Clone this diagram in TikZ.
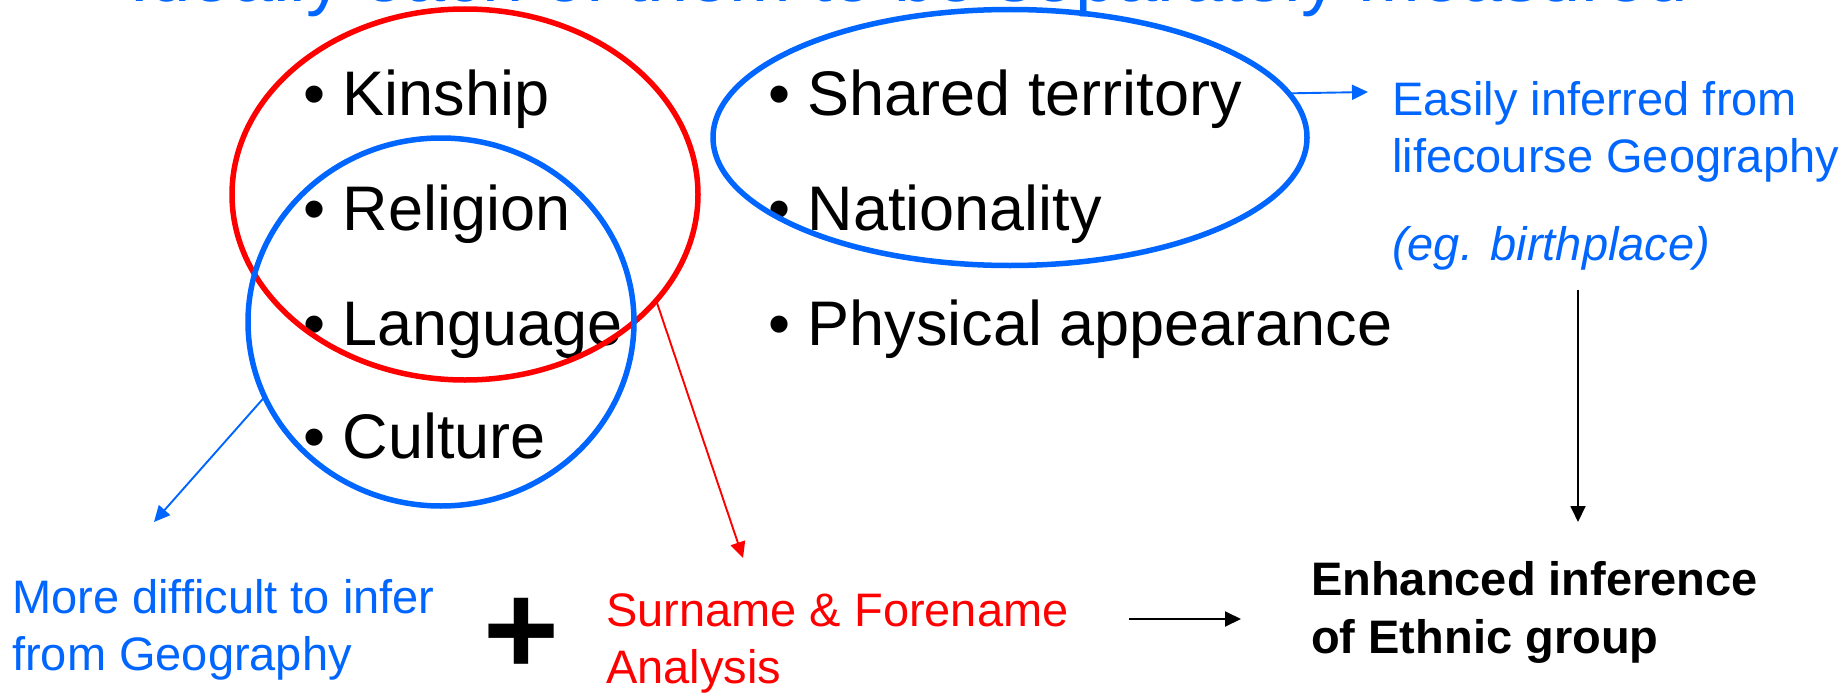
\documentclass[tikz,border=0pt]{standalone}
\usepackage{fontspec}
\setmainfont{Liberation Sans}
\usetikzlibrary{arrows.meta,shapes.geometric}
\definecolor{pblue}{RGB}{0,102,255}
\definecolor{pred}{RGB}{255,0,0}
\tikzset{
  big/.style={font=\fontsize{63}{75}\selectfont, anchor=base west, inner sep=0pt, text=black},
  side/.style={font=\fontsize{47}{57}\selectfont, anchor=base west, inner sep=0pt, align=left},
  ring/.style={ellipse, draw, line width=5.5pt, inner sep=0pt, outer sep=0pt},
  conn/.style={line width=1.9pt, -{Triangle[length=16pt,width=15pt]}},
}
\begin{document}
\begin{tikzpicture}[x=1pt,y=-1pt]
\useasboundingbox (0,0) rectangle (1845,693);
\clip (0,0) rectangle (1845,693);
% title (cut off at the top)
\node[anchor=base west, inner sep=0pt, text=pblue, font=\fontsize{74}{80}\selectfont] (title) at (129,2) {Ideally each of them to be separately measured};
% list items
\node[big] (kin) at (303,115) {•\ Kinship};
\node[big] (rel) at (303,230) {•\ Religion};
\node[big] (lang) at (303,345) {•\ Language};
\node[big] (cult) at (303,458) {•\ Culture};
\node[big] (terr) at (768,115) {•\ Shared territory};
\node[big] (nat) at (768,230) {•\ Nationality};
\node[big] (phys) at (768,345) {•\ Physical appearance};
% rings
\node[ring, draw=pred, minimum width=466pt, minimum height=371pt] (redring) at (465,194.5) {};
\node[ring, draw=pblue, minimum width=386pt, minimum height=368pt] (bluering) at (441,322) {};
\node[ring, draw=pblue, minimum width=594pt, minimum height=256pt] (terring) at (1010,137.5) {};
% side labels (anchored at the baseline of their last line)
\node[side, text=pblue] (easy) at (1392,172) {Easily inferred from\\lifecourse Geography};
\node[side, text=pblue, font=\fontsize{47}{57}\selectfont\itshape] (eg) at (1392,260) {(eg. birthplace)};
\node[side, text=pblue] (diff) at (12,670) {More difficult to infer\\from Geography};
\node[side, text=pred] (sur) at (606,683) {Surname \& Forename\\Analysis};
\node[side, text=black, font=\fontsize{47}{58}\selectfont\bfseries] (enh) at (1311,653) {Enhanced inference\\of Ethnic group};
\node[inner sep=0pt, font=\fontsize{130}{130}\selectfont\bfseries] (plus) at (521,636) {+};
% connectors
\coordinate (eaTip) at (1368,92);
\coordinate (diffTip) at (154,522);
\coordinate (surTip) at (743,558);
\coordinate (vTop) at (1578,290);
\coordinate (vTip) at (1578,522);
\coordinate (hStart) at (1129,619);
\coordinate (hTip) at (1241,619);
\draw[conn, pblue] (terring.9.3) -- (eaTip);
\draw[conn, pblue] (bluering.203.4) -- (diffTip);
\draw[conn, pred] (redring.-29.4) -- (surTip);
\draw[conn, black] (vTop) -- (vTip);
\draw[conn, black] (hStart) -- (hTip);
\end{tikzpicture}
\end{document}
